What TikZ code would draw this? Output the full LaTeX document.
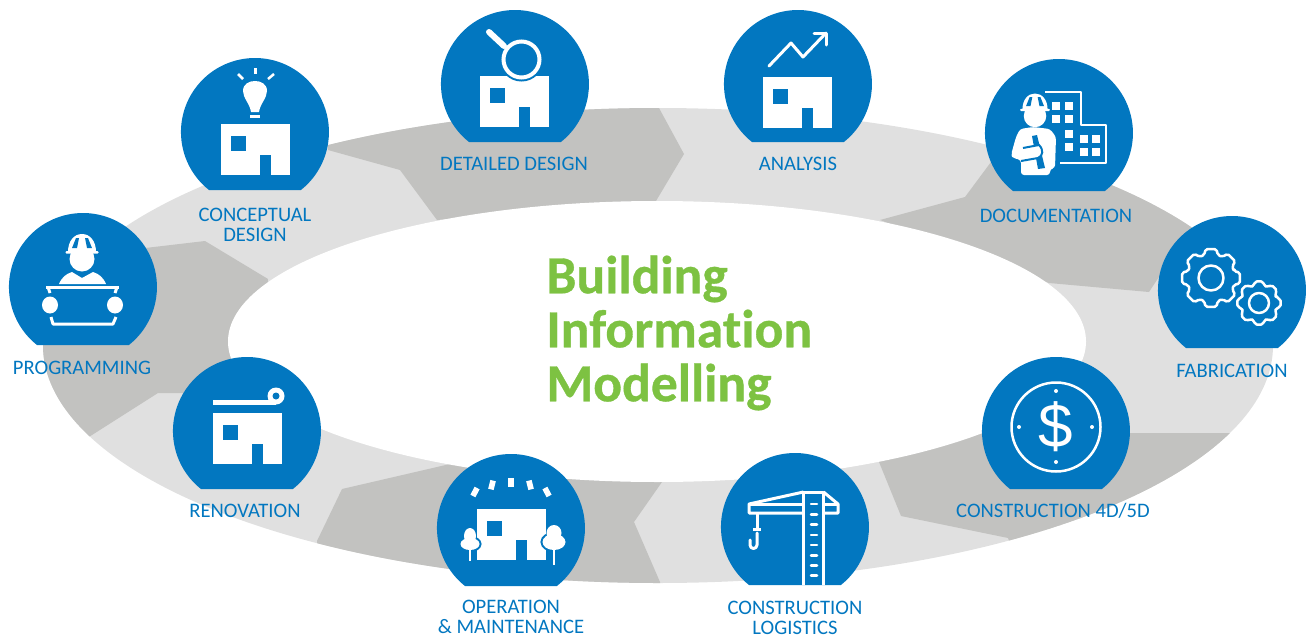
\documentclass[tikz,border=0pt]{standalone}
\usepackage{fontspec}
\setmainfont{Carlito}[Ligatures = NoCommon, BoldFeatures = {FakeBold = 0.6}]
\newfontfamily\dollarfont{Liberation Sans}

\definecolor{bimblue}{HTML}{0277C0}
\definecolor{bimgreen}{HTML}{7DC242}
\definecolor{ringlight}{HTML}{E0E0E0}
\definecolor{ringdark}{HTML}{C2C2C0}

\begin{document}
\begin{tikzpicture}
[
	x	= 0.5pt,	% one unit is one pixel of the reference
	y	= -0.5pt,
	%
	%
	% ----------- options for the labels --------------
	stage/.style =
	{
		text		= bimblue,
		align		= center,
		inner sep	= 0pt,
		font		= \fontsize{10.3}{10.1}\selectfont
	},
	%
	% ----------- options for the icons --------------
	iconline/.style =
	{
		draw		= white,
		line width	= 1.25pt,
		line join	= round
	},
	%
	pics/dome/.style =
	{
		code =
		{
			\fill [bimblue] (-46,58) arc [start angle = 128.4, end angle = 411.6, radius = 74] -- cycle;
		}
	},
	%
	pics/house/.style =
	{
		code =
		{
			\fill [white] (0,0) rectangle (69,51);
			\fill [bimblue] (10,12) rectangle (25,27);
			\fill [bimblue] (39,31) rectangle (50,51);
		}
	},
	%
	pics/helmet/.style =
	{
		code =
		{
			\fill [white] (0,0) circle [radius = 12.5];
			\fill [white] (-14,-7) .. controls (-14,-18) and (-8,-25) .. (0,-25) .. controls (8,-25) and (14,-18) .. (14,-7) -- cycle;
			\fill [white, rounded corners = 0.5pt] (-16.5,-8) -- (16.5,-8) -- (16.5,-5.5) -- (-16.5,-5.5) -- cycle;
			\fill [bimblue] (-10,-11) -- (-6,-21) -- (-3,-21) -- (-5,-11) -- cycle;
			\fill [bimblue] (10,-11) -- (6,-21) -- (3,-21) -- (5,-11) -- cycle;
		}
	},
	%
	pics/gear/.style n args = {2}{
		code =
		{
			\draw [iconline, rounded corners = 1pt] (-16:#2)
				\foreach \a in {0,45,...,315}
				{
					-- ({\a-16}:#2) -- ({\a-11}:#1) -- ({\a+11}:#1) -- ({\a+16}:#2)
				} -- cycle;
		}
	}
]

\useasboundingbox (0,0) rectangle (1306,637);



% ring
\fill [ringlight] (658,345.5) ellipse [x radius = 615, y radius = 237.5];

\begin{scope}
	\clip (658,345.5) ellipse [x radius = 615, y radius = 237.5];
	\fill [ringdark] (60,258) -- (205,241) -- (268,279) -- (260,394) -- (158,393) -- (92,435) -- (0,493) -- (0,258) -- cycle;
	\fill [ringdark] (328,150) -- (400,170) -- (437,220) -- (656,201) -- (684,154) -- (659,108) -- (659,90) -- (328,90) -- cycle;
	\fill [ringdark] (991,162) -- (965,197) -- (880,220) -- (1049,283) -- (1149,292) -- (1192,227) -- (1192,120) -- (1000,120) -- cycle;
	\fill [ringdark] (879,462) -- (901,516) -- (1008,538) -- (1020,570) -- (1300,570) -- (1300,433) -- (1000,433) -- (900,400) -- cycle;
	\fill [ringdark] (450,464) -- (342,489) -- (317,541) -- (317,600) -- (660,600) -- (660,582) -- (634,522) -- (662,482) -- (662,440) -- (450,440) -- cycle;
\end{scope}

\fill [white] (657,341.5) ellipse [x radius = 429, y radius = 140.5];



% domes
\foreach \cx/\cy/\nm in
{
	83/287/programming, 255/132/conceptual, 515/84/detailed, 798/84/analysis, 1059/133/documentation,
	1232/290/fabrication, 1056/431/costing, 795/527/logistics, 511/528/operation, 247/431/renovation%
}
{
	\pic (\nm) at (\cx,\cy) {dome};
}

% houses
\pic at (221,124) {house};
\pic at (480,76) {house};
\pic at (763,77) {house};
\pic at (213,413) {house};
\pic at (477,509) {house};



% programming
\pic at (82,259) {helmet};
\fill [white] (59,284) .. controls (62,277) and (66,274) .. (72,272) -- (82,278) -- (93,272) .. controls (99,274) and (103,277) .. (106,284) -- cycle;
\draw [iconline, line width = 1.5pt] (46,287) -- (119,287);
\draw [iconline, line width = 1.5pt] (48,287) -- (50,293);
\draw [iconline, line width = 1.5pt] (117,287) -- (115,293);
\draw [iconline, line width = 1.5pt] (51,317) -- (53,324) -- (113,324) -- (116,317);
\fill [white] (50,305) ellipse [x radius = 8, y radius = 8.5];
\fill [white] (115,305) ellipse [x radius = 8, y radius = 8.5];

% conceptual design
\fill [white] (251,112) .. controls (250,104) and (243,98) .. (243,91) .. controls (243,84) and (249,81) .. (255,81) .. controls (261,81) and (267,84) .. (267,91) .. controls (267,98) and (260,104) .. (259,112) -- cycle;
\fill [white] (250,115) rectangle (260,118);
\draw [iconline] (255.5,68) -- (255.5,74);
\draw [iconline] (238,74) -- (243,79);
\draw [iconline] (274,74) -- (268,79);

% detailed design
\draw [draw = bimblue, fill = bimblue, line width = 4pt] (521.5,59.5) circle [radius = 18];
\draw [white, line width = 2pt] (521.5,59.5) circle [radius = 18];
\draw [white, line width = 3pt, line cap = round] (489,32) -- (504,46);

% analysis
\draw [iconline, line width = 1.5pt, line cap = round] (769,66) -- (791,43) -- (803,57) -- (826,33);
\draw [iconline, line width = 1.5pt, line cap = round] (814,33) -- (826,33) -- (826,45);

% documentation
\draw [iconline] (1045,92) -- (1081,92) -- (1081,125) -- (1106,125) -- (1106,163) -- (1060,163);
\foreach \wx/\wy in {1052/102, 1065/102, 1052/115, 1065/115, 1065/130, 1065/143, 1080/135, 1092/135, 1080/148, 1092/148}
{
	\fill [white] (\wx,\wy) rectangle +(7.5,7.5);
}
\pic [scale = 0.9] at (1035,116) {helmet};
\fill [white, rounded corners = 1.5pt] (1033,127) -- (1020,129) -- (1016,137) -- (1011,155) -- (1013,158) -- (1021,160) -- (1021,175) -- (1050,175) -- (1050,169) -- (1055,168) -- (1056,137) -- (1050,129) -- cycle;
\fill [bimblue] (1032,136) -- (1037,135) -- (1045,168) -- (1038,169) -- cycle;
\fill [white] (1023,148) -- (1039,145) -- (1043,152) -- (1038,158) -- (1021,160) -- cycle;
\draw [bimblue, line width = 1pt] (1023,148) -- (1039,145) .. controls (1044,150) and (1043,156) .. (1038,158) -- (1021,161);

% fabrication
\pic at (1211,278) {gear={29.5}{24}};
\draw [iconline] (1211,278) circle [radius = 12.5];
\pic at (1259,303) {gear={22}{18}};
\draw [iconline] (1259,303) circle [radius = 10];

% construction 4D/5D
\draw [iconline] (1056,427) circle [radius = 44.5];
\foreach \dx/\dy in {1056/391, 1056/462, 1019/427, 1092/427}
{
	\fill [white] (\dx,\dy) circle [radius = 2];
}
\node (dollar) [text = white, inner sep = 0pt, font = \dollarfont\fontsize{31}{31}\selectfont] at (1056,427) {\$};

% construction logistics
\draw [iconline, line width = 1.5pt] (803.5,585) -- (803.5,492) -- (823.5,492) -- (823.5,585);
\draw [iconline, line width = 1.5pt] (803.5,492) -- (749,504) -- (749,513) -- (803.5,513);
\draw [iconline, line width = 1.5pt] (749,504) -- (803.5,504);
\draw [iconline, line width = 1.5pt] (823.5,492) -- (838,504) -- (838,513) -- (823.5,513);
\draw [iconline, line width = 1.5pt] (823.5,504) -- (838,504);
\draw [iconline, line width = 1.5pt] (757,513) -- (757,529);
\draw [iconline, line width = 1.5pt] (753,529) -- (761,529);
\draw [iconline, line width = 1.5pt, line cap = round] (757,533) -- (757,545) arc [start angle = 0, end angle = 180, radius = 3.5] -- (750,540);
\foreach \ty in {504,514.3,524.7,535,545,555.3,565.3,575.7}
{
	\draw [white, line width = 1.25pt, line cap = round] (811,\ty) -- (817,\ty);
}

% operation and maintenance
\foreach \rx/\ry/\ra in {475/492/-28, 492/485/-14, 511/482/0, 530/485/14, 547/492/28}
{
	\fill [white, shift = {(\rx,\ry)}, rotate = \ra] (-2.8,-4.5) rectangle (2.8,4.5);
}
\draw [bimblue, line width = 2pt, fill = white] (470,544) ellipse [x radius = 9.5, y radius = 6];
\draw [bimblue, line width = 2pt, fill = white] (554,542) ellipse [x radius = 11.5, y radius = 8];
\fill [white] (470,544) ellipse [x radius = 9.5, y radius = 6];
\fill [white] (470,536) ellipse [x radius = 6, y radius = 8];
\fill [white] (554,542) ellipse [x radius = 11.5, y radius = 8];
\fill [white] (554,533) ellipse [x radius = 7.5, y radius = 8];
\draw [iconline] (470,548) -- (470,561);
\draw [iconline] (554,548) -- (554,565);

% renovation
\fill [white] (213,400) rectangle (276,405);
\fill [white] (276,396) circle [radius = 8.5];
\fill [bimblue] (276,396) circle [radius = 3.5];



% labels
\node (lblprogramming) [stage] at (82,368) {PROGRAMMING};
\node (lblconceptual) [stage] at (255,225) {CONCEPTUAL\\DESIGN};
\node (lbldetailed) [stage] at (514,164) {DETAILED DESIGN};
\node (lblanalysis) [stage] at (798,164) {ANALYSIS};
\node (lbldocumentation) [stage] at (1056,216) {DOCUMENTATION};
\node (lblfabrication) [stage] at (1232,371) {FABRICATION};
\node (lblcosting) [stage] at (1053,511) {CONSTRUCTION 4D/5D};
\node (lbllogistics) [stage] at (795,618) {CONSTRUCTION\\LOGISTICS};
\node (lbloperation) [stage] at (511,617) {OPERATION\\\& MAINTENANCE};
\node (lblrenovation) [stage] at (245,511) {RENOVATION};

% title
\node (title) [anchor = west, align = left, inner sep = 0pt, text = bimgreen, font = \bfseries\fontsize{26.8}{27}\selectfont] at (546,333) {Building\\Information\\Modelling};

\end{tikzpicture}
\end{document}
